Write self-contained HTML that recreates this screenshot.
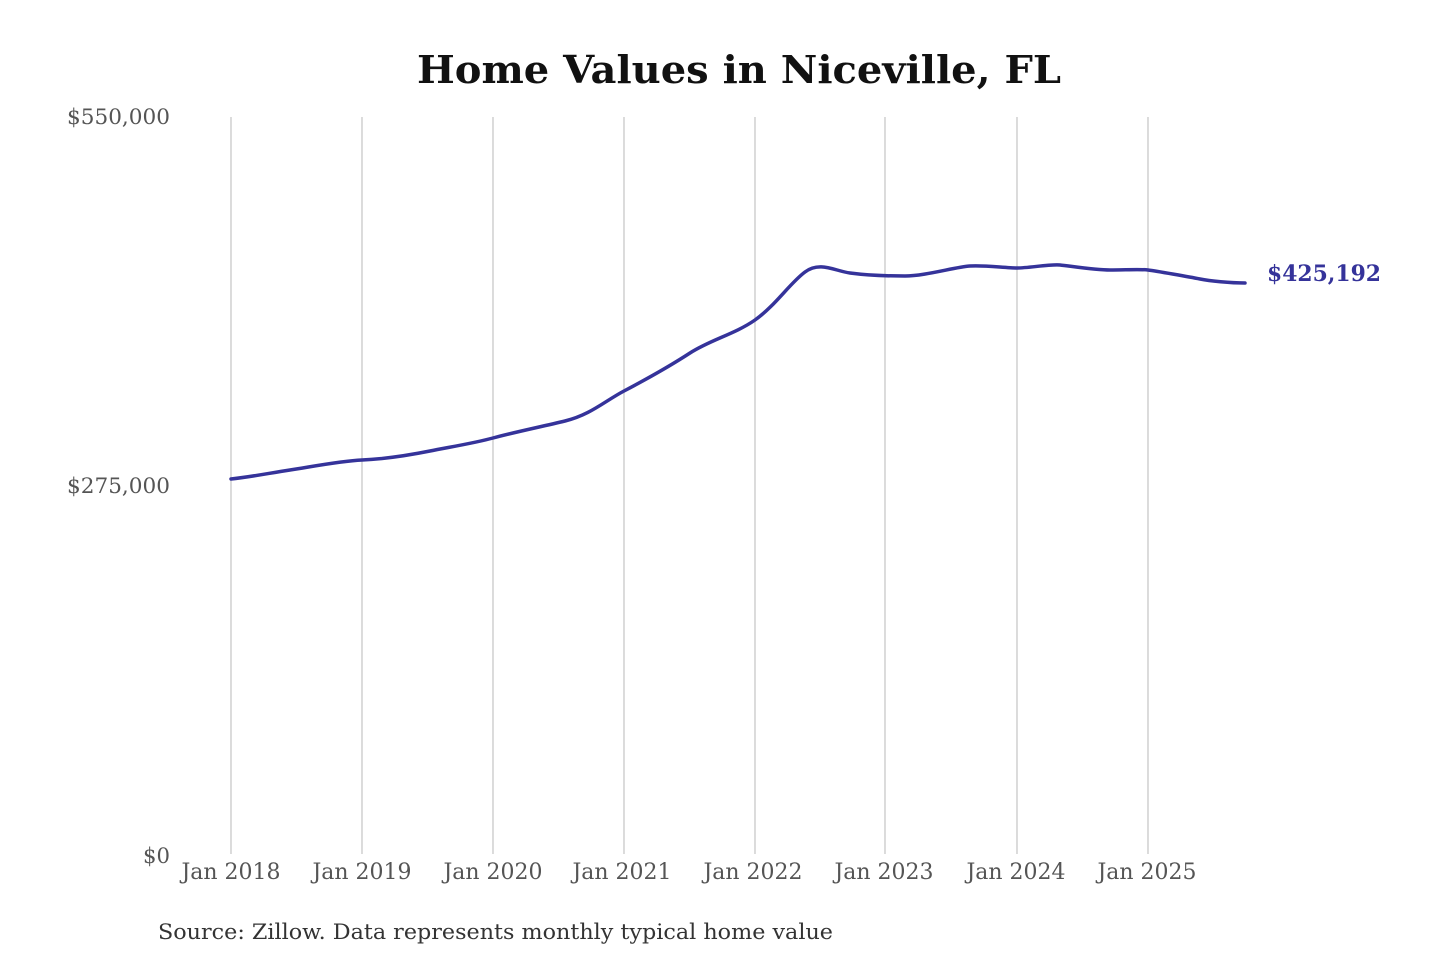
<!DOCTYPE html>
<html><head><meta charset="utf-8"><style>
html,body{margin:0;padding:0;background:#fff;}
svg{display:block;}
text{font-family:"DejaVu Serif","Liberation Serif",serif;}
</style></head><body>
<svg width="1440" height="960" viewBox="0 0 1440 960" xmlns="http://www.w3.org/2000/svg">
<rect width="1440" height="960" fill="#fff"/>
<text x="739" y="83" text-anchor="middle" font-size="38" font-weight="bold" fill="#111" textLength="644" lengthAdjust="spacingAndGlyphs">Home Values in Niceville, FL</text>
<g stroke="#c8c8c8" stroke-width="1.3">
<line x1="231" y1="117" x2="231" y2="854"/>
<line x1="362" y1="117" x2="362" y2="854"/>
<line x1="493" y1="117" x2="493" y2="854"/>
<line x1="624" y1="117" x2="624" y2="854"/>
<line x1="755" y1="117" x2="755" y2="854"/>
<line x1="885" y1="117" x2="885" y2="854"/>
<line x1="1017" y1="117" x2="1017" y2="854"/>
<line x1="1148" y1="117" x2="1148" y2="854"/>
</g>
<g font-size="21" fill="#555" text-anchor="end">
<text x="170" y="124" textLength="103" lengthAdjust="spacingAndGlyphs">$550,000</text>
<text x="170" y="493" textLength="103" lengthAdjust="spacingAndGlyphs">$275,000</text>
<text x="170" y="863" textLength="27" lengthAdjust="spacingAndGlyphs">$0</text>
</g>
<g font-size="22" fill="#555" text-anchor="middle">
<text x="231" y="879" textLength="99" lengthAdjust="spacingAndGlyphs">Jan 2018</text>
<text x="362" y="879" textLength="99" lengthAdjust="spacingAndGlyphs">Jan 2019</text>
<text x="493" y="879" textLength="99" lengthAdjust="spacingAndGlyphs">Jan 2020</text>
<text x="622" y="879" textLength="99" lengthAdjust="spacingAndGlyphs">Jan 2021</text>
<text x="753" y="879" textLength="99" lengthAdjust="spacingAndGlyphs">Jan 2022</text>
<text x="884" y="879" textLength="99" lengthAdjust="spacingAndGlyphs">Jan 2023</text>
<text x="1016" y="879" textLength="99" lengthAdjust="spacingAndGlyphs">Jan 2024</text>
<text x="1147" y="879" textLength="99" lengthAdjust="spacingAndGlyphs">Jan 2025</text>
</g>
<path fill="none" stroke="#35339a" stroke-width="3.5" stroke-linejoin="round" stroke-linecap="round"
d="M231,479 C250,477 270,473 290,470 S340,461 362,460 S410,455 430,451 S475,443 493,438 S540,427 565,421 S605,401 624,391 S670,366 690,353 S735,334 755,320 S790,283 805,272 S835,271 850,273 S885,276 905,276 S955,267 970,266 S1005,268 1017,268 S1050,264 1060,265 S1095,270 1110,270 S1140,269 1148,270 S1190,277 1200,279 S1230,283 1245,283"/>
<text x="1267" y="281" font-size="22" font-weight="bold" fill="#35339a" textLength="114" lengthAdjust="spacingAndGlyphs">$425,192</text>
<text x="158" y="939" font-size="21" fill="#333" textLength="675" lengthAdjust="spacingAndGlyphs">Source: Zillow. Data represents monthly typical home value</text>
</svg>
</body></html>
